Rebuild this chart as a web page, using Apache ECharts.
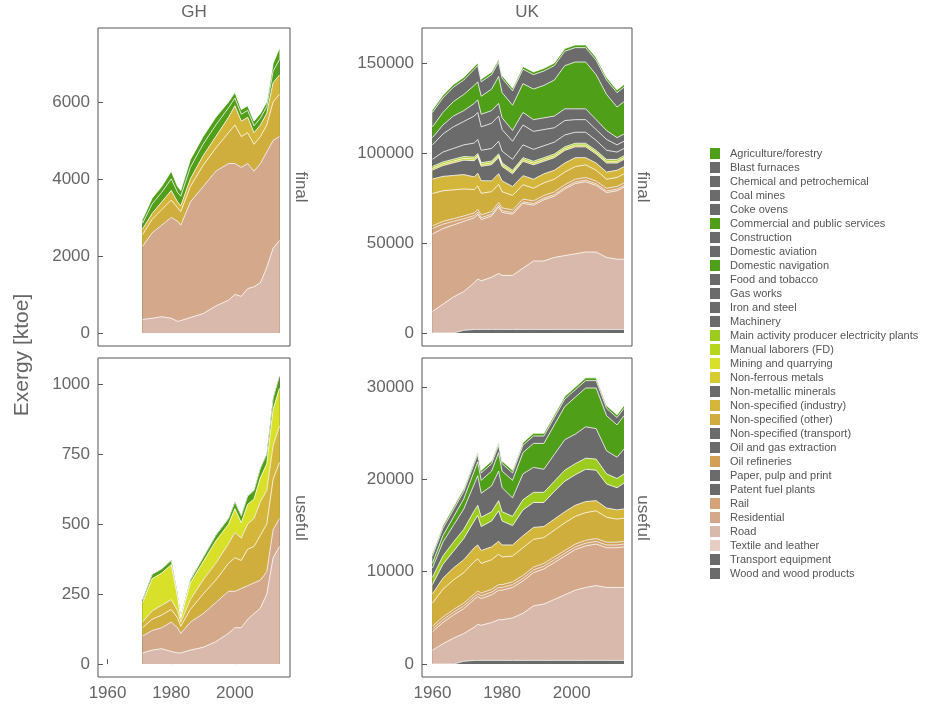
<!DOCTYPE html>
<html>
<head>
<meta charset="utf-8">
<script src="https://cdn.jsdelivr.net/npm/echarts@6/dist/echarts.min.js"></script>
<style>html,body{margin:0;padding:0;background:#fff}#c{width:936px;height:712px}</style>
</head>
<body>
<div id="c"></div>
<script>
// legend order (top to bottom); stacked bottom-up in reverse
var sectors = ['Agriculture/forestry','Blast furnaces','Chemical and petrochemical','Coal mines','Coke ovens',
  'Commercial and public services','Construction','Domestic aviation','Domestic navigation','Food and tobacco',
  'Gas works','Iron and steel','Machinery','Main activity producer electricity plants','Manual laborers (FD)',
  'Mining and quarrying','Non-ferrous metals','Non-metallic minerals','Non-specified (industry)','Non-specified (other)',
  'Non-specified (transport)','Oil and gas extraction','Oil refineries','Paper, pulp and print','Patent fuel plants',
  'Rail','Residential','Road','Textile and leather','Transport equipment','Wood and wood products'];
var GRAY = '#6b6b6b', GREEN = '#4f9f18';
var sectorColors = [GREEN,GRAY,GRAY,GRAY,GRAY,GREEN,GRAY,GRAY,GREEN,GRAY,GRAY,GRAY,GRAY,'#9ccc1e','#b6d61e',
  '#d8e02a','#d6cc30',GRAY,'#d4b63a','#d0ae3e',GRAY,GRAY,'#d4a058',GRAY,GRAY,'#d4a478','#d4a88a','#d9b9ab','#e8cdc4',GRAY,GRAY];

// ---- GH ----
var ghYears = [1971,1974,1977,1980,1982,1983,1986,1990,1994,1998,2000,2002,2004,2006,2008,2010,2012,2014];
var ghFinalRoad = [350,380,420,380,300,320,400,500,700,850,1000,950,1150,1200,1300,1700,2200,2400];
var ghFinalResidential = [1900,2220,2380,2620,2600,2480,3000,3300,3500,3550,3400,3350,3250,3000,3100,3000,2800,2700];
var ghFinalNsOther = [300,350,400,450,350,350,400,550,600,800,1000,800,800,700,700,700,1000,1100];
var ghFinalNsIndustry = [150,150,200,250,150,150,200,250,300,400,500,400,400,300,300,300,500,500];
var ghFinalCommercial = [150,250,250,300,250,250,300,300,300,250,200,180,180,180,180,180,300,400];
var ghFinalAgri = [100,150,150,200,150,150,200,200,200,150,150,120,120,120,120,120,200,300];

var ghUsefulRoad = [40,50,55,45,40,40,50,60,80,110,130,130,160,180,200,250,380,420];
var ghUsefulResidential = [60,70,75,105,90,70,100,120,140,150,130,140,120,110,100,80,100,100];
var ghUsefulNsOther = [30,40,45,45,35,25,45,70,80,100,120,100,130,130,160,170,180,200];
var ghUsefulNsIndustry = [20,30,35,35,25,15,35,50,60,70,90,80,90,100,120,120,120,130];
var ghUsefulMining = [70,115,115,125,50,15,60,65,80,70,85,55,70,70,85,95,130,135];
var ghUsefulCommercial = [10,15,15,15,10,5,10,15,20,20,25,25,30,30,35,35,40,45];

// ---- UK ----
var ukYears = [1960,1963,1966,1969,1972,1973,1974,1977,1979,1980,1983,1986,1989,1992,1995,1998,2001,2004,2007,2010,2013,2015];
var ukFinalWood = [0,0,0,1500,2000,2000,2000,2000,2000,2000,2000,2000,2000,2000,2000,2000,2000,2000,2000,2000,2000,2000];
var ukFinalRoad = [12000,16000,20000,21500,26000,28000,27000,29000,31000,30000,30000,34000,38000,38000,40000,41000,42000,43000,43000,40000,39000,39000];
var ukFinalResidential = [43000,42000,40000,39000,36000,36000,34000,34000,37000,35000,34000,36000,31000,34000,34000,37000,39000,39000,37000,36000,38000,40000];
var ukFinalRail = [3000,2500,2000,1500,1200,1200,1100,1000,1000,1000,900,900,900,900,900,900,900,900,900,900,900,900];
var ukFinalRefineries = [1500,1500,1500,1500,1500,1500,1500,1500,1500,1500,1500,1500,1500,1500,1500,1500,1500,1500,1500,1500,1500,1500];
var ukFinalNsOther = [18000,17000,16000,15000,13000,13000,12000,11000,10000,9000,8000,8000,7000,7000,7000,7000,7000,7000,6000,5000,5000,5000];
var ukFinalNsIndustry = [8000,8000,8000,8000,7000,7000,7000,6000,6000,6000,5000,5000,5000,5000,5000,5000,5000,4000,4000,4000,4000,4000];
var ukFinalNonMetallic = [5000,6000,7000,8000,9000,9000,8000,9000,9000,8000,7000,8000,8000,7000,7000,7000,6000,6000,5000,5000,4000,4000];
var ukFinalNonFerrous = [1000,1000,1000,1000,1000,1000,1000,1000,1000,1000,1000,1000,1000,1000,1000,1000,1000,1000,1000,1000,1000,1000];
var ukFinalElectricity = [1000,1000,1000,1000,1000,1000,1000,1000,1000,1000,1000,1000,1000,1000,1000,1000,1000,1000,1000,1000,1000,1000];
var ukFinalMachinery = [4000,5500,6000,6500,7800,7800,6900,7000,7000,6500,6100,7100,6600,6600,6600,6600,6100,6100,5600,5100,4100,4100];
var ukFinalIronSteel = [8000,10000,12000,13000,15000,15000,13000,14000,14000,12000,10000,11000,10000,9000,8000,8000,7000,7000,6000,6000,4000,4000];
var ukFinalFood = [4000,5000,6000,6000,7000,7000,7000,7000,7000,6500,6000,7000,6500,6500,6500,6500,6000,6000,5500,5000,4000,4000];
var ukFinalCommercial = [6000,7000,8000,9000,10000,10000,10000,12000,15000,14000,14000,16000,17000,18000,20000,24000,26000,26000,25000,20000,17000,18000];
var ukFinalBlast = [8000,8000,8000,8000,9000,9000,8000,8000,8000,8000,8000,8000,8000,8000,8000,8000,8000,8000,8000,8000,8000,8000];
var ukFinalAgri = [1500,1500,1500,1500,1500,1500,1500,1500,1500,1500,1500,1500,1500,1500,1500,1500,1500,1500,1500,1500,1500,1500];

var ukUsefulWood = [0,0,0,300,400,400,400,400,400,400,400,400,400,400,400,400,400,400,400,400,400,400];
var ukUsefulRoad = [1500,2200,2800,3000,3600,3900,3800,4100,4400,4400,4600,5100,5900,6100,6600,7100,7600,7900,8100,7900,7900,7900];
var ukUsefulResidential = [2000,2300,2500,2700,3000,3000,2900,3000,3200,3200,3300,3500,3600,3800,4000,4200,4400,4500,4500,4300,4300,4400];
var ukUsefulRail = [300,300,300,300,300,300,300,300,300,300,300,300,300,300,300,300,300,300,300,300,300,300];
var ukUsefulRefineries = [300,300,300,300,300,300,300,300,300,300,300,300,300,300,300,300,300,300,300,300,300,300];
var ukUsefulNsOther = [2500,3000,3200,3300,3500,3500,3200,3200,3300,3000,2800,3000,3000,2800,2900,3000,3000,3000,3000,2700,2500,2500];
var ukUsefulNsIndustry = [1000,1200,1300,1400,1500,1500,1400,1400,1400,1300,1200,1300,1300,1200,1200,1200,1200,1200,1100,1000,1000,1000];
var ukUsefulNonMetallic = [1000,1500,1800,2300,2900,3200,2600,2800,3300,2600,2100,2800,2700,2600,3000,3300,3300,3500,3300,2600,2400,2800];
var ukUsefulElectricity = [800,900,1000,1000,1100,1100,1000,1000,1100,1000,1000,1100,1100,1100,1100,1200,1200,1200,1200,1100,1000,1000];
var ukUsefulIronSteel = [1000,1500,1800,2200,2900,3200,2600,2800,3200,2600,2000,2800,2700,2500,2900,3300,3200,3400,3300,2500,2300,2700];
var ukUsefulCommercial = [500,700,900,1100,1400,1500,1400,1600,2000,1800,1900,2300,2600,2800,3200,3600,4000,4200,4400,3800,3500,3600];
var ukUsefulBlast = [800,800,800,800,800,800,800,800,800,800,800,800,800,800,800,800,800,800,800,800,800,800];
var ukUsefulAgri = [300,300,300,300,300,300,300,300,300,300,300,300,300,300,300,300,300,300,300,300,300,300];

var xTicks = [1960, 1980, 2000];

var panels = [
  {years: ghYears, yMin: -340, yMax: 7920, ticks: [0,2000,4000,6000], data: {
    'Road': ghFinalRoad, 'Residential': ghFinalResidential, 'Non-specified (other)': ghFinalNsOther,
    'Non-specified (industry)': ghFinalNsIndustry, 'Commercial and public services': ghFinalCommercial,
    'Agriculture/forestry': ghFinalAgri}},
  {years: ukYears, yMin: -7200, yMax: 169400, ticks: [0,50000,100000,150000], data: {
    'Wood and wood products': ukFinalWood, 'Road': ukFinalRoad, 'Residential': ukFinalResidential,
    'Rail': ukFinalRail, 'Oil refineries': ukFinalRefineries, 'Non-specified (other)': ukFinalNsOther,
    'Non-specified (industry)': ukFinalNsIndustry, 'Non-metallic minerals': ukFinalNonMetallic,
    'Non-ferrous metals': ukFinalNonFerrous, 'Main activity producer electricity plants': ukFinalElectricity,
    'Machinery': ukFinalMachinery, 'Iron and steel': ukFinalIronSteel, 'Food and tobacco': ukFinalFood,
    'Commercial and public services': ukFinalCommercial, 'Blast furnaces': ukFinalBlast,
    'Agriculture/forestry': ukFinalAgri}},
  {years: ghYears, yMin: -46, yMax: 1093, ticks: [0,250,500,750,1000], data: {
    'Road': ghUsefulRoad, 'Residential': ghUsefulResidential, 'Non-specified (other)': ghUsefulNsOther,
    'Non-specified (industry)': ghUsefulNsIndustry, 'Mining and quarrying': ghUsefulMining,
    'Commercial and public services': ghUsefulCommercial}},
  {years: ukYears, yMin: -1400, yMax: 33150, ticks: [0,10000,20000,30000], data: {
    'Wood and wood products': ukUsefulWood, 'Road': ukUsefulRoad, 'Residential': ukUsefulResidential,
    'Rail': ukUsefulRail, 'Oil refineries': ukUsefulRefineries, 'Non-specified (other)': ukUsefulNsOther,
    'Non-specified (industry)': ukUsefulNsIndustry, 'Non-metallic minerals': ukUsefulNonMetallic,
    'Main activity producer electricity plants': ukUsefulElectricity, 'Iron and steel': ukUsefulIronSteel,
    'Commercial and public services': ukUsefulCommercial, 'Blast furnaces': ukUsefulBlast,
    'Agriculture/forestry': ukUsefulAgri}}
];
var grids = [
  {left: 98, top: 28, width: 192, height: 318},
  {left: 422, top: 28, width: 210, height: 318},
  {left: 98, top: 358, width: 192, height: 319},
  {left: 422, top: 358, width: 210, height: 319}
];
var TXT = '#666', FONT = 'Liberation Sans';

var xAxes = [], yAxes = [], series = [];
panels.forEach(function(p, k) {
  var bottom = k >= 2;
  xAxes.push({type: 'value', gridIndex: k, min: 1957, max: 2017.3,
    axisLine: {show: false}, splitLine: {show: false},
    axisTick: {show: bottom, inside: true, length: 5, lineStyle: {color: '#555'}, customValues: xTicks},
    axisLabel: {show: bottom, color: TXT, fontSize: 17, fontFamily: FONT, customValues: xTicks, margin: 8,
      formatter: function(v) { return String(v); }}});
  yAxes.push({type: 'value', gridIndex: k, min: p.yMin, max: p.yMax,
    axisLine: {show: false}, splitLine: {show: false},
    axisTick: {show: true, inside: true, length: 5, lineStyle: {color: '#555'}, customValues: p.ticks},
    axisLabel: {color: TXT, fontSize: 17, fontFamily: FONT, customValues: p.ticks, margin: 8,
      formatter: function(v) { return String(v); }}});
  // running totals, bottom (last sector) upward
  var cum = p.years.map(function() { return 0; });
  var layers = [];
  for (var s = sectors.length - 1; s >= 0; s--) {
    var vals = p.data[sectors[s]];
    cum = cum.map(function(c, i) { return c + (vals ? vals[i] : 0); });
    layers[s] = {tops: cum.slice(), has: !!vals};
  }
  // draw the top layer first, each filled down to zero; lower layers paint over it
  for (var t = 0; t < sectors.length; t++) {
    var L = layers[t];
    series.push({name: sectors[t], type: 'line', xAxisIndex: k, yAxisIndex: k,
      symbol: 'none', animation: false, silent: true,
      data: p.years.map(function(y, i) { return [y, L.tops[i]]; }),
      itemStyle: {color: sectorColors[t]},
      lineStyle: {color: '#fff', width: L.has ? 0.8 : 0},
      areaStyle: {color: sectorColors[t], opacity: 1, origin: 0}});
  }
});

function sideLabel(x, y, t) {
  return {type: 'text', x: x, y: y, rotation: -Math.PI / 2,
    style: {text: t, fill: TXT, font: '17px ' + FONT, textAlign: 'center', textVerticalAlign: 'bottom'}};
}

var chart = echarts.init(document.getElementById('c'));
chart.setOption({
  backgroundColor: '#fff',
  animation: false,
  grid: grids.map(function(g) { return Object.assign({show: true, borderColor: '#555', borderWidth: 1, backgroundColor: 'transparent'}, g); }),
  xAxis: xAxes,
  yAxis: yAxes,
  legend: {orient: 'vertical', left: 705, top: 143, itemGap: 3, itemWidth: 10, itemHeight: 11,
    icon: 'rect', data: sectors, selectedMode: false,
    textStyle: {color: '#555', fontSize: 11, fontFamily: FONT, padding: [0,0,0,5]}},
  graphic: [
    {type: 'text', x: 194, y: 4, style: {text: 'GH', fill: TXT, font: '17px ' + FONT, textAlign: 'center'}},
    {type: 'text', x: 527, y: 4, style: {text: 'UK', fill: TXT, font: '17px ' + FONT, textAlign: 'center'}},
    sideLabel(292, 187, 'final'), sideLabel(292, 518, 'useful'),
    sideLabel(634, 187, 'final'), sideLabel(634, 518, 'useful'),
    {type: 'text', x: 12, y: 355, rotation: Math.PI / 2, style: {text: 'Exergy [ktoe]', fill: TXT, font: '21px ' + FONT, textAlign: 'center', textVerticalAlign: 'top'}}
  ],
  series: series
});
</script>
</body>
</html>
